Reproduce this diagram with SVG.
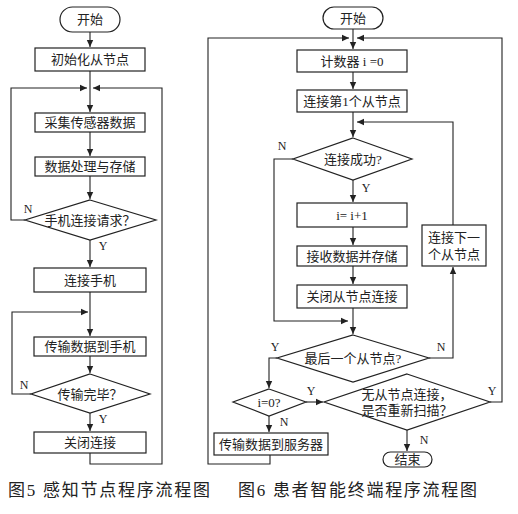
<svg xmlns="http://www.w3.org/2000/svg" width="518" height="514" viewBox="0 0 518 514">
<style>
.box{fill:#fff;stroke:#222;stroke-width:1.2}
.ln{fill:none;stroke:#222;stroke-width:1.1}
.t{font-family:"Liberation Serif","Noto Sans CJK SC",serif;font-size:13px;fill:#222;text-anchor:middle;dominant-baseline:central}
.lb{font-family:"Liberation Serif",serif;font-size:12px;fill:#222;text-anchor:middle}
.cap{font-family:"Liberation Serif","Noto Sans CJK SC",serif;font-size:17px;fill:#222}
</style>
<defs>
<marker id="ah" markerWidth="8" markerHeight="8" refX="7" refY="4" orient="auto" markerUnits="userSpaceOnUse">
<path d="M0,0.8 L7,4 L0,7.2 Z" fill="#222"/>
</marker>
</defs>
<rect width="518" height="514" fill="#fff"/>
<g id="connectors">
<!-- fig 5 -->
<line class="ln" x1="90" y1="32" x2="90" y2="47" marker-end="url(#ah)"/>
<line class="ln" x1="90" y1="71" x2="90" y2="112" marker-end="url(#ah)"/>
<line class="ln" x1="90" y1="132" x2="90" y2="156" marker-end="url(#ah)"/>
<line class="ln" x1="90" y1="176" x2="90" y2="199" marker-end="url(#ah)"/>
<polyline class="ln" points="25,220 11,220 11,88 87,88" marker-end="url(#ah)"/>
<line class="ln" x1="90" y1="240" x2="90" y2="267" marker-end="url(#ah)"/>
<line class="ln" x1="90" y1="292" x2="90" y2="336" marker-end="url(#ah)"/>
<polyline class="ln" points="31,394 12,394 12,312 88,312" marker-end="url(#ah)"/>
<line class="ln" x1="90" y1="356" x2="90" y2="373" marker-end="url(#ah)"/>
<line class="ln" x1="90" y1="413" x2="90" y2="431" marker-end="url(#ah)"/>
<polyline class="ln" points="90,453 90,464 162,464 162,88 93,88" marker-end="url(#ah)"/>
<!-- fig 6 -->
<line class="ln" x1="353" y1="29" x2="353" y2="49" marker-end="url(#ah)"/>
<polyline class="ln" points="270,455 270,464 208,464 208,38 349,38" marker-end="url(#ah)"/>
<polyline class="ln" points="490,402 502,402 502,38 357,38" marker-end="url(#ah)"/>
<line class="ln" x1="353" y1="72" x2="353" y2="89" marker-end="url(#ah)"/>
<line class="ln" x1="353" y1="112" x2="353" y2="137" marker-end="url(#ah)"/>
<polyline class="ln" points="453,225 453,122 357,122" marker-end="url(#ah)"/>
<polyline class="ln" points="293,159 274,159 274,321 348,321" marker-end="url(#ah)"/>
<line class="ln" x1="353" y1="180" x2="353" y2="202" marker-end="url(#ah)"/>
<line class="ln" x1="353" y1="227" x2="353" y2="245" marker-end="url(#ah)"/>
<line class="ln" x1="353" y1="266" x2="353" y2="284" marker-end="url(#ah)"/>
<line class="ln" x1="353" y1="308" x2="353" y2="334" marker-end="url(#ah)"/>
<polyline class="ln" points="429,358 453,358 453,267" marker-end="url(#ah)"/>
<polyline class="ln" points="277,358 269,358 269,388" marker-end="url(#ah)"/>
<line class="ln" x1="306" y1="402" x2="323" y2="402" marker-end="url(#ah)"/>
<line class="ln" x1="407" y1="430" x2="407" y2="451" marker-end="url(#ah)"/>
<line class="ln" x1="269" y1="416" x2="269" y2="432" marker-end="url(#ah)"/>
</g>
<g id="labels">
<text class="lb" x="28" y="213">N</text>
<text class="lb" x="103" y="250">Y</text>
<text class="lb" x="24" y="389">N</text>
<text class="lb" x="103" y="423">Y</text>
<text class="lb" x="282" y="150">N</text>
<text class="lb" x="366" y="192">Y</text>
<text class="lb" x="441" y="351">N</text>
<text class="lb" x="275" y="351">Y</text>
<text class="lb" x="311" y="395">Y</text>
<text class="lb" x="492" y="395">Y</text>
<text class="lb" x="284" y="426">N</text>
<text class="lb" x="424" y="444">N</text>
</g>
<!-- fig 5 nodes -->
<g id="f5-start"><rect class="box" x="60" y="7" width="60" height="25" rx="12.5"/><text class="t" x="90" y="19.5">开始</text></g>
<g id="f5-init"><rect class="box" x="35" y="48" width="110" height="23"/><text class="t" x="90" y="59.5">初始化从节点</text></g>
<g id="f5-collect"><rect class="box" x="35" y="113" width="110" height="19"/><text class="t" x="90" y="122.5">采集传感器数据</text></g>
<g id="f5-process"><rect class="box" x="35" y="157" width="110" height="19"/><text class="t" x="90" y="166.5">数据处理与存储</text></g>
<g id="f5-req"><polygon class="box" points="90,200 156,220 90,240 25,220"/><text class="t" x="90" y="220">手机连接请求？</text></g>
<g id="f5-connect"><rect class="box" x="34" y="268" width="112" height="24"/><text class="t" x="90" y="280">连接手机</text></g>
<g id="f5-send"><rect class="box" x="34" y="337" width="112" height="19"/><text class="t" x="90" y="346.5">传输数据到手机</text></g>
<g id="f5-done"><polygon class="box" points="90,374 150,394 90,413 31,394"/><text class="t" x="90" y="394">传输完毕？</text></g>
<g id="f5-close"><rect class="box" x="34" y="432" width="112" height="21"/><text class="t" x="90" y="442.5">关闭连接</text></g>
<!-- fig 6 nodes -->
<g id="f6-start"><rect class="box" x="323" y="7" width="60" height="22" rx="11"/><text class="t" x="353" y="18">开始</text></g>
<g id="f6-counter"><rect class="box" x="297" y="50" width="110" height="22"/><text class="t" x="352" y="61">计数器 i =0</text></g>
<g id="f6-first"><rect class="box" x="297" y="90" width="110" height="22"/><text class="t" x="352" y="101">连接第1个从节点</text></g>
<g id="f6-ok"><polygon class="box" points="353,138 412,159 353,180 293,159"/><text class="t" x="353" y="159">连接成功?</text></g>
<g id="f6-inc"><rect class="box" x="297" y="203" width="110" height="24"/><text class="t" x="352" y="215">i= i+1</text></g>
<g id="f6-recv"><rect class="box" x="297" y="246" width="110" height="20"/><text class="t" x="352" y="256">接收数据并存储</text></g>
<g id="f6-closeslave"><rect class="box" x="297" y="285" width="110" height="23"/><text class="t" x="352" y="296.5">关闭从节点连接</text></g>
<g id="f6-next"><rect class="box" x="422" y="225" width="64" height="41"/><text class="t" x="454" y="237">连接下一</text><text class="t" x="454" y="254">个从节点</text></g>
<g id="f6-last"><polygon class="box" points="353,335 429,358 353,382 277,358"/><text class="t" x="353" y="358">最后一个从节点?</text></g>
<g id="f6-zero"><polygon class="box" points="269,389 306,402 269,416 233,402"/><text class="t" x="269" y="402">i=0?</text></g>
<g id="f6-rescan"><polygon class="box" points="407,374 490,402 407,430 324,402"/><text class="t" x="407" y="394">无从节点连接，</text><text class="t" x="407" y="410">是否重新扫描？</text></g>
<g id="f6-server"><rect class="box" x="214" y="433" width="114" height="22"/><text class="t" x="271" y="444">传输数据到服务器</text></g>
<g id="f6-end"><rect class="box" x="383" y="452" width="49" height="15" rx="7.5"/><text class="t" x="407.5" y="459.5">结束</text></g>
<!-- captions -->
<text class="cap" x="8" y="496" textLength="202" lengthAdjust="spacing">图5 感知节点程序流程图</text>
<text class="cap" x="238" y="496" textLength="239" lengthAdjust="spacing">图6 患者智能终端程序流程图</text>
</svg>
